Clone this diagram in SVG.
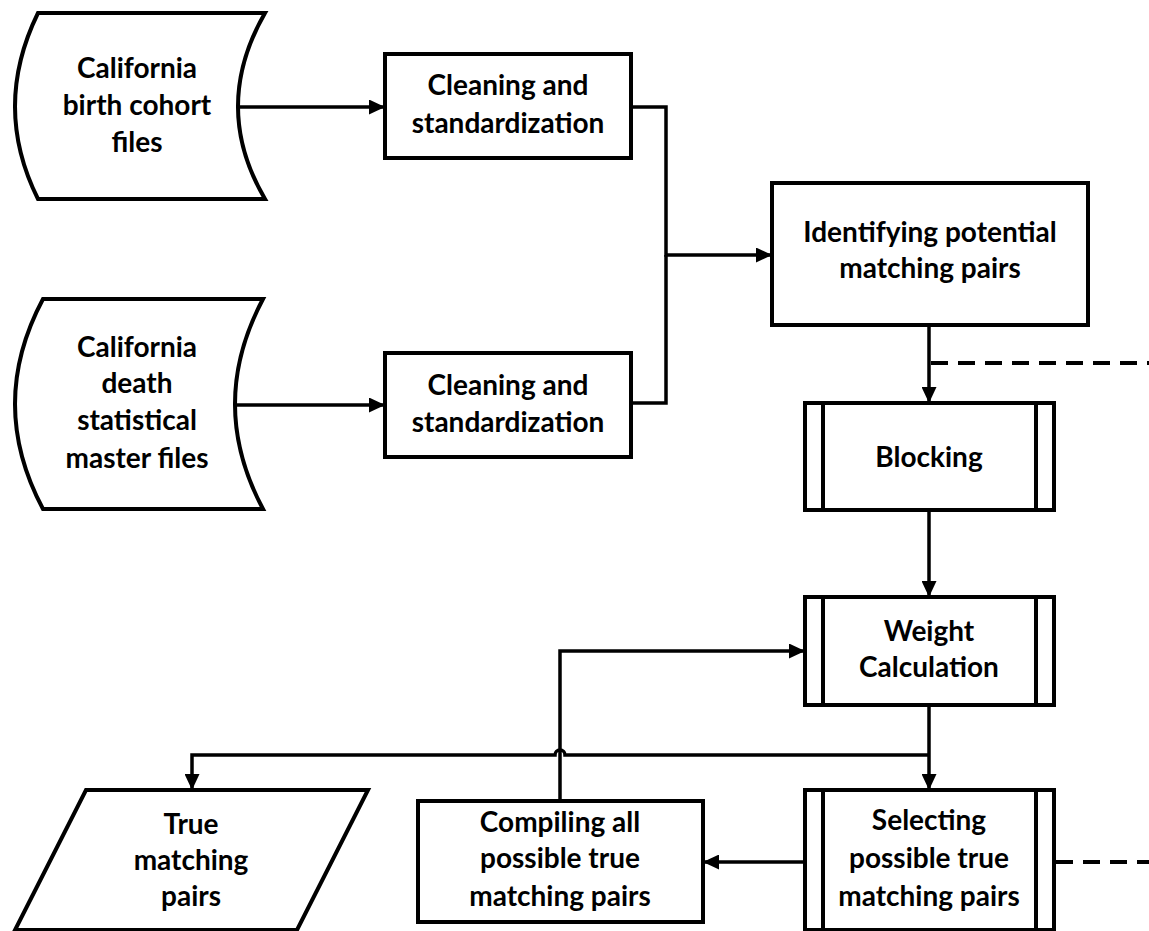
<svg xmlns="http://www.w3.org/2000/svg" width="1149" height="931" viewBox="0 0 1149 931">
<style>
.shape{fill:#fff;stroke:#000;stroke-width:4;stroke-linejoin:miter}
.bar{fill:none;stroke:#000;stroke-width:4}
.t{font-family:Lato,"Liberation Sans",sans-serif;font-weight:bold;font-size:28px;fill:#000;text-anchor:middle}
.c{fill:none;stroke:#000;stroke-width:3.5}
.d{fill:none;stroke:#000;stroke-width:4;stroke-dasharray:17 10}
</style>
<defs>
<marker id="ah" markerUnits="userSpaceOnUse" markerWidth="16" markerHeight="15" refX="16" refY="7.5" orient="auto">
<path d="M0,0 L16,7.5 L0,15 Z" fill="#000"/>
</marker>
</defs>
<g id="connectors">
<path class="c" d="M240,107 H385" marker-end="url(#ah)"/>
<path class="c" d="M236,405 H385" marker-end="url(#ah)"/>
<path class="c" d="M631,107 H666 V255 H772" marker-end="url(#ah)"/>
<path class="c" d="M631,403 H666 V255"/>
<path class="c" d="M929,325 V403" marker-end="url(#ah)"/>
<path class="d" d="M931,363 H1149"/>
<path class="c" d="M929,510 V597" marker-end="url(#ah)"/>
<path class="c" d="M929,705 V790" marker-end="url(#ah)"/>
<path class="c" d="M929,755 H565 A5,5 0 0 0 555,755 H192 V790" marker-end="url(#ah)"/>
<path class="c" d="M805,862 H703" marker-end="url(#ah)"/>
<path class="d" d="M1056,862 H1149"/>
<path class="c" d="M560,801 V651 H805" marker-end="url(#ah)"/>
</g>
<g id="birth-files">
<path class="shape" d="M38,13 H265 Q211,107 265,199 H38 Q-8,107 38,13 Z"/>
<text class="t" x="137" y="78">California</text>
<text class="t" x="137" y="115">birth cohort</text>
<text class="t" x="137" y="152">files</text>
</g>
<g id="death-files">
<path class="shape" d="M43,299 H263 Q207,404 263,509 H43 Q-13,404 43,299 Z"/>
<text class="t" x="137" y="357">California</text>
<text class="t" x="137" y="393">death</text>
<text class="t" x="137" y="430">statistical</text>
<text class="t" x="137" y="468">master files</text>
</g>
<g id="clean1">
<rect class="shape" x="385" y="54" width="246" height="104"/>
<text class="t" x="508" y="95">Cleaning and</text>
<text class="t" x="508" y="133">standardization</text>
</g>
<g id="clean2">
<rect class="shape" x="385" y="353" width="246" height="104"/>
<text class="t" x="508" y="395">Cleaning and</text>
<text class="t" x="508" y="432">standardization</text>
</g>
<g id="identify">
<rect class="shape" x="772" y="183" width="316" height="142"/>
<text class="t" x="930" y="242">Identifying potential</text>
<text class="t" x="930" y="278">matching pairs</text>
</g>
<g id="blocking">
<rect class="shape" x="805" y="403" width="249" height="107"/>
<path class="bar" d="M823,403 V510 M1036,403 V510"/>
<text class="t" x="929" y="467">Blocking</text>
</g>
<g id="weight">
<rect class="shape" x="805" y="597" width="249" height="108"/>
<path class="bar" d="M823,597 V705 M1036,597 V705"/>
<text class="t" x="929" y="641">Weight</text>
<text class="t" x="929" y="677">Calculation</text>
</g>
<g id="selecting">
<rect class="shape" x="805" y="790" width="249" height="140"/>
<path class="bar" d="M823,790 V930 M1036,790 V930"/>
<text class="t" x="929" y="830">Selecting</text>
<text class="t" x="929" y="868">possible true</text>
<text class="t" x="929" y="906">matching pairs</text>
</g>
<g id="compiling">
<rect class="shape" x="418" y="801" width="285" height="121"/>
<text class="t" x="560" y="832">Compiling all</text>
<text class="t" x="560" y="868">possible true</text>
<text class="t" x="560" y="906">matching pairs</text>
</g>
<g id="true-pairs">
<path class="shape" d="M86,790 H368 L297,930 H15 Z"/>
<text class="t" x="191" y="834">True</text>
<text class="t" x="191" y="870">matching</text>
<text class="t" x="191" y="906">pairs</text>
</g>
</svg>
